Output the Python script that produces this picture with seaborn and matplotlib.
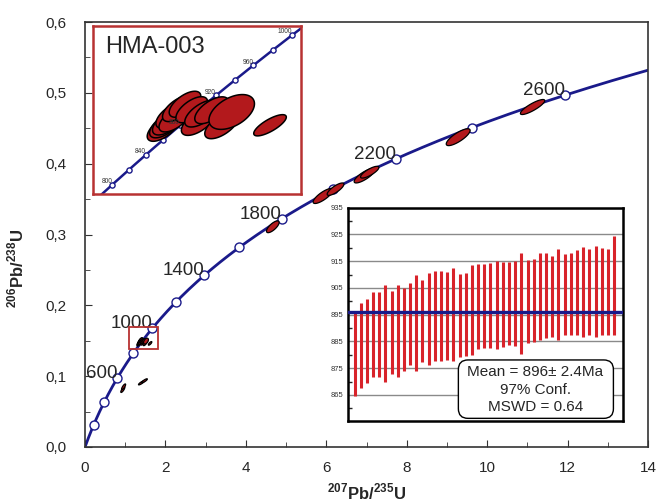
import numpy as np
import matplotlib
matplotlib.use("Agg")
import matplotlib.pyplot as plt
import seaborn as sns
from matplotlib.patches import Polygon, Rectangle, FancyBboxPatch
from matplotlib.ticker import MultipleLocator, FuncFormatter

sns.set_style("ticks")
plt.rcParams['font.family'] = ['Liberation Sans', 'DejaVu Sans']
plt.rcParams['mathtext.fontset'] = 'custom'
plt.rcParams['mathtext.rm'] = 'Liberation Sans'
plt.rcParams['mathtext.bf'] = 'Liberation Sans:bold'

# decay constants (1/yr)
L238 = 1.55125e-10
L235 = 9.8485e-10

# concordia ages (Ma)
main_marker_ages = [200, 400, 600, 800, 1000, 1200, 1400, 1600, 1800, 2000, 2200, 2400, 2600]
main_label_ages = [600, 1000, 1400, 1800, 2200, 2600]
inset_marker_ages = [800, 820, 840, 860, 880, 900, 920, 940, 960, 980, 1000]
inset_label_ages = [800, 840, 880, 920, 960, 1000]

# zircon analyses: 207Pb/235U, 206Pb/238U, 2s errors, error correlation
pb207_u235 = [1.3336, 1.3400, 1.3477, 1.3568, 1.3650, 1.3743, 1.3921, 1.4100,
              1.4275, 1.4365, 1.4631, 1.4897, 1.5163, 1.6182,
              0.940, 0.960, 1.400, 1.480,
              4.67, 5.92, 6.23, 6.95, 7.08, 9.28, 11.13]
pb206_u238 = [0.14557, 0.14640, 0.14708, 0.14867, 0.14780, 0.15027, 0.15130, 0.15000,
              0.14708, 0.14908, 0.14987, 0.14629, 0.14946, 0.14629,
              0.0810, 0.0850, 0.0905, 0.0935,
              0.3109, 0.3544, 0.3640, 0.3830, 0.3880, 0.4374, 0.4800]
err_207 = [0.042, 0.042, 0.042, 0.042, 0.042, 0.042, 0.042, 0.042,
           0.045, 0.045, 0.045, 0.045, 0.0605, 0.0433,
           0.050, 0.050, 0.070, 0.070,
           0.157, 0.2475, 0.208, 0.257, 0.228, 0.297, 0.303]
err_206 = [0.0031, 0.0031, 0.0031, 0.0031, 0.0031, 0.0031, 0.0031, 0.0031,
           0.0032, 0.0032, 0.0032, 0.0032, 0.00415, 0.00253,
           0.0040, 0.0040, 0.0028, 0.0028,
           0.0083, 0.0106, 0.00875, 0.0102, 0.0083, 0.0119, 0.0106]
rho = [0.62, 0.62, 0.62, 0.62, 0.62, 0.62, 0.62, 0.62,
       0.62, 0.62, 0.62, 0.62, 0.47, 0.77,
       0.80, 0.80, 0.85, 0.85,
       0.74, 0.80, 0.80, 0.80, 0.80, 0.80, 0.85]

# weighted mean plot: 206Pb/238U ages with 2s error bars (Ma)
bar_top = [895.6, 899.2, 900.9, 903.3, 903.3, 905.9, 903.8, 906.0, 905.0, 907.0,
           909.7, 908.0, 910.7, 911.3, 911.3, 911.0, 912.3, 910.3, 910.7, 913.4,
           913.8, 914.0, 914.3, 915.0, 914.5, 914.5, 915.0, 918.1, 915.5, 915.7,
           918.1, 917.9, 917.0, 919.4, 917.8, 917.9, 919.0, 920.1, 919.6, 920.6,
           919.8, 919.6, 924.5]
bar_bottom = [864.6, 867.5, 869.3, 871.7, 871.8, 870.0, 872.8, 871.6, 873.8, 876.1,
              873.8, 877.3, 876.1, 877.8, 877.8, 878.0, 877.8, 879.3, 879.7, 879.8,
              882.2, 882.7, 882.7, 882.3, 883.1, 883.6, 883.3, 880.3, 884.6, 884.8,
              885.6, 886.3, 886.8, 885.6, 887.3, 887.3, 887.3, 886.8, 887.3, 886.6,
              887.3, 887.4, 887.3]
mean_age = 896

NAVY = '#1a1a8a'
ELL_RED = '#b3191c'
BAR_RED = '#d8232a'
BOX_RED = '#b83232'


def concordia(t_ma):
    t = np.asarray(t_ma, dtype=float) * 1e6
    return np.exp(L235 * t) - 1, np.exp(L238 * t) - 1


def draw_ellipses(ax, lw):
    tt = np.linspace(0, 2 * np.pi, 120)
    for cx, cy, sx, sy, r in zip(pb207_u235, pb206_u238, err_207, err_206, rho):
        ex = cx + sx * np.cos(tt)
        ey = cy + sy * (r * np.cos(tt) + np.sqrt(1 - r ** 2) * np.sin(tt))
        ax.add_patch(Polygon(np.column_stack([ex, ey]), closed=True,
                             facecolor=ELL_RED, edgecolor='black', lw=lw, zorder=4))


fig = plt.figure(figsize=(6.56, 5.04), dpi=100)
ax = fig.add_axes([0.1296, 0.1131, 0.8582, 0.8432])

# concordia curve
t_curve = np.linspace(0, np.log(15) / L235 / 1e6, 400)
cx, cy = concordia(t_curve)
sns.lineplot(x=cx, y=cy, sort=False, color=NAVY, lw=2.0, ax=ax, zorder=2)
mx, my = concordia(main_marker_ages)
sns.scatterplot(x=mx, y=my, s=42, color='white', edgecolor=NAVY, linewidth=1.0,
                ax=ax, zorder=3)
lx, ly = concordia(main_label_ages)
for a, x, y in zip(main_label_ages, lx, ly):
    ax.text(x, y, str(a), ha='right', va='baseline', fontsize=13.5, zorder=5)

draw_ellipses(ax, 0.9)
ax.add_patch(Rectangle((1.10, 0.1386), 0.71, 0.0314, fill=False,
                       edgecolor=BOX_RED, lw=1.3, zorder=6))

ax.set_xlim(0, 14)
ax.set_ylim(0, 0.6)
ax.xaxis.set_major_locator(MultipleLocator(2))
ax.xaxis.set_minor_locator(MultipleLocator(1))
ax.yaxis.set_major_locator(MultipleLocator(0.1))
ax.yaxis.set_minor_locator(MultipleLocator(0.05))
ax.yaxis.set_major_formatter(FuncFormatter(lambda v, p: f"{v:.1f}".replace('.', ',')))
ax.tick_params(which='both', direction='in', top=False, right=False,
               labelsize=11, pad=10, color='#333333')
ax.tick_params(axis='y', which='major', pad=13)
ax.tick_params(which='major', length=5)
ax.tick_params(which='minor', length=3.5)
for s in ax.spines.values():
    s.set_color('#333333')
    s.set_linewidth(1.2)
ax.set_xlabel(r'$^{\mathbf{207}}$Pb/$^{\mathbf{235}}$U', fontsize=12, fontweight='bold')
ax.set_ylabel(r'$^{\mathbf{206}}$Pb/$^{\mathbf{238}}$U', fontsize=12, fontweight='bold')
ax.xaxis.set_label_coords(0.5, -0.082)
ax.yaxis.set_label_coords(-0.105, 0.42)

# zoomed concordia inset
ax_in = fig.add_axes([0.1418, 0.615, 0.317, 0.333])
t_in = np.linspace(760, 1040, 200)
ix, iy = concordia(t_in)
sns.lineplot(x=ix, y=iy, sort=False, color=NAVY, lw=1.8, ax=ax_in, zorder=2)
imx, imy = concordia(inset_marker_ages)
sns.scatterplot(x=imx, y=imy, s=14, color='white', edgecolor=NAVY, linewidth=1.0,
                ax=ax_in, zorder=3)
draw_ellipses(ax_in, 1.1)
ilx, ily = concordia(inset_label_ages)
for a, x, y in zip(inset_label_ages, ilx, ily):
    ax_in.text(x, y + 0.0004, str(a), ha='right', va='baseline', fontsize=4.8,
               color='#333333', zorder=5)
ax_in.text(0.058, 0.877, 'HMA-003', transform=ax_in.transAxes, fontsize=17,
           ha='left', va='center', zorder=6)
ax_in.set_xlim(1.1475, 1.7005)
ax_in.set_ylim(0.1299, 0.1699)
ax_in.set_xticks([])
ax_in.set_yticks([])
ax_in.set_xlabel('')
ax_in.set_ylabel('')
for s in ax_in.spines.values():
    s.set_color(BOX_RED)
    s.set_linewidth(1.8)

# weighted mean inset
ax_b = fig.add_axes([0.531, 0.1653, 0.4183, 0.4228])
idx = np.arange(1, len(bar_top) + 1)
ax_b.vlines(idx, bar_bottom, bar_top, color=BAR_RED, lw=2.2, zorder=3)
ax_b.axhline(mean_age, color=NAVY, lw=2.4, zorder=4)
ax_b.set_xlim(0.0, 44.4)
ax_b.set_ylim(855.4, 935)
ax_b.set_yticks(np.arange(865, 936, 10))
ax_b.set_yticks(np.arange(860, 931, 10), minor=True)
ax_b.set_xticks([])
ax_b.grid(axis='y', which='major', color='#8a8a8a', lw=1.0, zorder=1)
ax_b.tick_params(axis='y', which='major', length=0, labelsize=5.5, pad=3.5,
                 labelcolor='#333333')
ax_b.tick_params(axis='y', which='minor', direction='in', length=3, width=1)
for s in ax_b.spines.values():
    s.set_color('black')
    s.set_linewidth(1.8)
box = FancyBboxPatch((0.401, 0.011), 0.565, 0.274, transform=ax_b.transAxes,
                     boxstyle='round,pad=0,rounding_size=0.035',
                     mutation_aspect=1.29, facecolor='white', edgecolor='black',
                     lw=1.0, zorder=5)
ax_b.add_patch(box)
ax_b.text(0.682, 0.146, 'Mean = 896\u00b1 2.4Ma\n97% Conf.\nMSWD = 0.64',
          transform=ax_b.transAxes, ha='center', va='center', fontsize=11,
          linespacing=1.3, zorder=6)

fig.savefig('out.png', dpi=100)
